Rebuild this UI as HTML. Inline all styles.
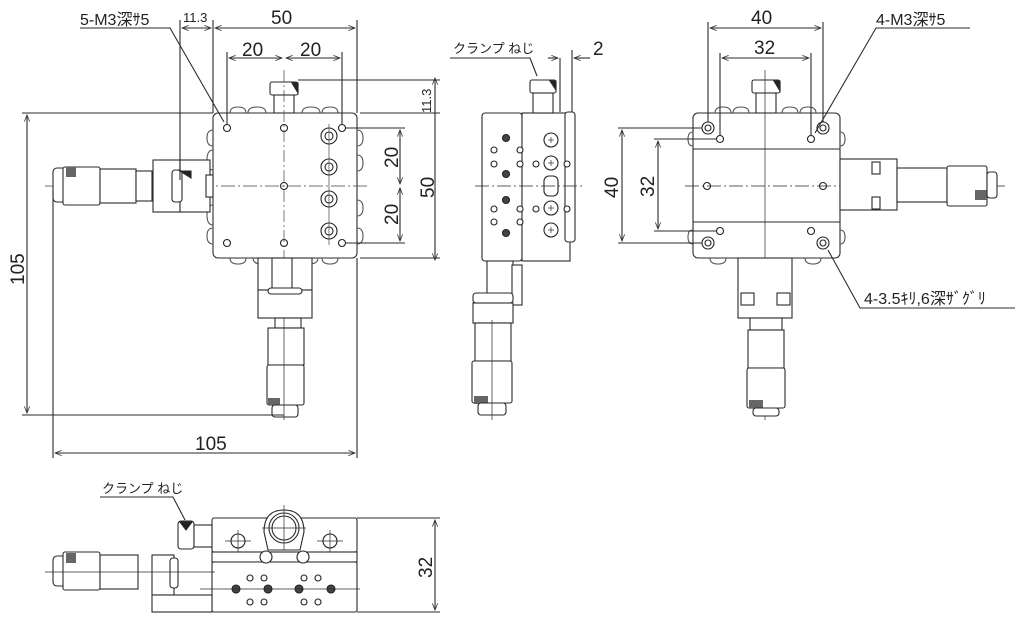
<!DOCTYPE html>
<html><head><meta charset="utf-8"><style>
html,body{margin:0;padding:0;background:#fff;}
svg{display:block;font-family:"Liberation Sans","Noto Sans CJK JP",sans-serif;}
</style></head><body>
<svg width="1024" height="625" viewBox="0 0 1024 625" xmlns="http://www.w3.org/2000/svg">
<defs>
<marker id="a" viewBox="0 0 10 10" refX="10" refY="5" markerWidth="9" markerHeight="6" orient="auto-start-reverse"><path d="M0,1 L10,5 L0,9" fill="none" stroke="#333" stroke-width="1.2"/></marker>
</defs>
<g stroke="#2a2a2a" stroke-width="1.1" fill="none">
<!-- ========== TOP VIEW ========== -->
<rect x="213" y="113" width="144" height="145" rx="5" fill="#fff"/>
<g stroke="#555">
<path d="M230,113 q0,-6 8,-6 q8,0 8,6 M248,113 q0,-6 9,-6 q9,0 9,6 M302,113 q0,-6 9,-6 q9,0 9,6 M322,113 q0,-6 8,-6 q8,0 8,6"/>
<path d="M230,258 q0,6 8,6 q8,0 8,-6 M253,258 q0,6 9,6 q9,0 9,-6 M300,258 q0,6 9,6 q9,0 9,-6 M322,258 q0,6 8,6 q8,0 8,-6"/>
<path d="M213,130 q-6,0 -6,8 q0,8 6,8 M213,150 q-6,0 -6,10 q0,10 6,10 M213,205 q-6,0 -6,10 q0,10 6,10 M213,228 q-6,0 -6,8 q0,8 6,8"/>
<path d="M357,130 q6,0 6,8 q0,8 -6,8 M357,155 q6,0 6,8 q0,8 -6,8 M357,200 q6,0 6,8 q0,8 -6,8 M357,228 q6,0 6,8 q0,8 -6,8"/>
</g>
<rect x="270" y="82" width="28" height="13" rx="2" fill="#fff"/>
<path d="M292,83 L298,83 L298,93 Z" fill="#222"/>
<rect x="274" y="95" width="20" height="18" fill="#fff"/>
<g fill="#fff" stroke="#222">
<circle cx="227" cy="128" r="3.5"/><circle cx="284" cy="128" r="3.5"/><circle cx="342" cy="128" r="3.5"/>
<circle cx="284" cy="186" r="3.5"/>
<circle cx="227" cy="243" r="3.5"/><circle cx="284" cy="243" r="3.5"/><circle cx="342" cy="243" r="3.5"/>
<circle cx="329" cy="136" r="8"/><circle cx="329" cy="136" r="4"/>
<circle cx="329" cy="167" r="8"/><circle cx="329" cy="167" r="4"/>
<circle cx="329" cy="199" r="8"/><circle cx="329" cy="199" r="4"/>
<circle cx="329" cy="231" r="8"/><circle cx="329" cy="231" r="4"/>
</g>
<g stroke="#444" stroke-width="0.7">
<line x1="284" y1="70" x2="284" y2="275" stroke-dasharray="12,3,2,3"/>
<line x1="45" y1="186" x2="370" y2="186" stroke-dasharray="14,3,2,3"/>
<line x1="329" y1="124" x2="329" y2="245"/>
</g>
<rect x="53" y="168" width="14" height="34" rx="4" fill="#fff"/>
<rect x="63" y="167" width="37" height="38" rx="2" fill="#fff"/>
<rect x="66" y="167" width="10" height="10" fill="#666" stroke="none"/>
<rect x="100" y="169" width="36" height="34" fill="#fff"/>
<rect x="136" y="171" width="16" height="30" fill="#fff"/>
<rect x="153" y="160" width="27" height="52" fill="#fff"/>
<rect x="180" y="160" width="30" height="52" fill="#fff"/>
<rect x="172" y="170" width="10" height="32" rx="3" fill="#fff"/>
<path d="M180,171 L191,171 L191,178 Z" fill="#222"/>
<rect x="206" y="175" width="7" height="22" fill="#fff"/>
<rect x="258" y="258" width="54" height="32" fill="#fff"/>
<rect x="272" y="258" width="20" height="32" fill="#fff"/>
<rect x="258" y="290" width="54" height="28" fill="#fff"/>
<rect x="268" y="288" width="34" height="6" rx="3" fill="#fff"/>
<rect x="275" y="318" width="26" height="10" fill="#fff"/>
<rect x="268" y="328" width="36" height="37" fill="#fff"/>
<rect x="267" y="365" width="37" height="40" rx="2" fill="#fff"/>
<rect x="268" y="398" width="12" height="7" fill="#666" stroke="none"/>
<rect x="272" y="405" width="26" height="12" rx="3" fill="#fff"/>
<line x1="284" y1="318" x2="284" y2="420" stroke-width="0.7"/>
<line x1="180" y1="20" x2="180" y2="180"/><line x1="213" y1="20" x2="213" y2="113"/><line x1="357" y1="20" x2="357" y2="113"/>
<line x1="182" y1="28" x2="211" y2="28" marker-start="url(#a)" marker-end="url(#a)"/>
<line x1="215" y1="28" x2="355" y2="28" marker-start="url(#a)" marker-end="url(#a)"/>
<line x1="227" y1="52" x2="227" y2="124"/><line x1="342" y1="52" x2="342" y2="124"/>
<line x1="229" y1="58" x2="282" y2="58" marker-start="url(#a)" marker-end="url(#a)"/>
<line x1="286" y1="58" x2="340" y2="58" marker-start="url(#a)" marker-end="url(#a)"/>
<line x1="298" y1="80" x2="440" y2="80"/><line x1="360" y1="113" x2="440" y2="113"/><line x1="360" y1="258" x2="440" y2="258"/>
<line x1="435" y1="78" x2="435" y2="260" marker-start="url(#a)" marker-end="url(#a)"/>
<line x1="346" y1="128" x2="405" y2="128"/><line x1="346" y1="243" x2="405" y2="243"/>
<line x1="400" y1="130" x2="400" y2="184" marker-start="url(#a)" marker-end="url(#a)"/>
<line x1="400" y1="188" x2="400" y2="241" marker-start="url(#a)" marker-end="url(#a)"/>
<line x1="22" y1="113" x2="213" y2="113"/><line x1="22" y1="415" x2="284" y2="415"/>
<line x1="27" y1="115" x2="27" y2="413" marker-start="url(#a)" marker-end="url(#a)"/>
<line x1="53" y1="190" x2="53" y2="458"/><line x1="357" y1="258" x2="357" y2="458"/>
<line x1="55" y1="453" x2="355" y2="453" marker-start="url(#a)" marker-end="url(#a)"/>
<polyline points="80,28 170,28 224,122" />
<!-- ========== SIDE VIEW ========== -->
<rect x="482" y="113" width="40" height="148" rx="3" fill="#fff"/>
<rect x="522" y="113" width="48" height="148" fill="#fff"/>
<rect x="565" y="112" width="10" height="130" rx="3" fill="#fff"/>
<rect x="530" y="80" width="26" height="13" rx="2" fill="#fff"/>
<path d="M550,81 L556,81 L556,90 Z" fill="#222"/>
<rect x="533" y="93" width="20" height="20" fill="#fff"/>
<g fill="#fff" stroke="#222">
<circle cx="506" cy="138" r="3.5" fill="#444"/><circle cx="506" cy="174" r="3.5" fill="#444"/><circle cx="506" cy="200" r="3.5" fill="#444"/><circle cx="506" cy="233" r="3.5" fill="#444"/>
<circle cx="494" cy="150" r="3"/><circle cx="520" cy="150" r="3"/><circle cx="494" cy="164" r="3"/><circle cx="520" cy="164" r="3"/>
<circle cx="494" cy="209" r="3"/><circle cx="520" cy="209" r="3"/><circle cx="494" cy="222" r="3"/><circle cx="520" cy="222" r="3"/>
<circle cx="536" cy="164" r="3"/><circle cx="567" cy="164" r="3"/><circle cx="536" cy="209" r="3"/><circle cx="567" cy="209" r="3"/>
<circle cx="551" cy="140" r="7"/><circle cx="551" cy="163" r="7"/><circle cx="551" cy="208" r="7"/><circle cx="551" cy="230" r="7"/>
<rect x="544" y="176" width="14" height="20" rx="5"/>
</g>
<g stroke-width="0.7">
<line x1="548" y1="140" x2="554" y2="140"/><line x1="551" y1="137" x2="551" y2="143"/>
<line x1="548" y1="163" x2="554" y2="163"/><line x1="551" y1="160" x2="551" y2="166"/>
<line x1="548" y1="208" x2="554" y2="208"/><line x1="551" y1="205" x2="551" y2="211"/>
<line x1="548" y1="230" x2="554" y2="230"/><line x1="551" y1="227" x2="551" y2="233"/>
</g>
<line x1="475" y1="186" x2="585" y2="186" stroke-width="0.7" stroke-dasharray="14,3,2,3"/>
<rect x="487" y="261" width="26" height="34" fill="#fff"/>
<rect x="512" y="265" width="10" height="40" fill="#fff"/>
<rect x="473" y="293" width="40" height="10" rx="3" fill="#fff"/>
<rect x="473" y="303" width="40" height="20" fill="#fff"/>
<rect x="475" y="323" width="36" height="38" fill="#fff"/>
<rect x="472" y="361" width="40" height="42" rx="2" fill="#fff"/>
<rect x="474" y="396" width="14" height="8" fill="#666" stroke="none"/>
<rect x="478" y="403" width="28" height="12" rx="3" fill="#fff"/>
<line x1="492" y1="320" x2="492" y2="420" stroke-width="0.7"/>
<polyline points="450,58 530,58 537,76"/>
<line x1="560" y1="58" x2="560" y2="112"/><line x1="572" y1="50" x2="572" y2="112"/>
<line x1="548" y1="58" x2="558" y2="58" marker-end="url(#a)"/><line x1="590" y1="58" x2="574" y2="58" marker-end="url(#a)"/>
<!-- ========== RIGHT VIEW ========== -->
<rect x="693" y="113" width="147" height="145" rx="5" fill="#fff"/>
<line x1="693" y1="149" x2="840" y2="149"/><line x1="693" y1="222" x2="840" y2="222"/>
<g stroke="#555">
<path d="M715,113 q0,-6 8,-6 q8,0 8,6 M733,113 q0,-6 8,-6 q8,0 8,6 M782,113 q0,-6 8,-6 q8,0 8,6 M800,113 q0,-6 8,-6 q8,0 8,6"/>
<path d="M710,258 q0,6 8,6 q8,0 8,-6 M805,258 q0,6 8,6 q8,0 8,-6"/>
<path d="M693,132 q-5,0 -5,7 q0,7 5,7 M693,230 q-5,0 -5,7 q0,7 5,7 M840,132 q5,0 5,7 q0,7 -5,7 M840,230 q5,0 5,7 q0,7 -5,7"/>
</g>
<rect x="752" y="80" width="28" height="13" rx="2" fill="#fff"/>
<path d="M774,81 L780,81 L780,91 Z" fill="#222"/>
<rect x="756" y="93" width="20" height="20" fill="#fff"/>
<g fill="#fff" stroke="#222">
<circle cx="708" cy="128" r="6"/><circle cx="708" cy="128" r="3"/>
<circle cx="823" cy="128" r="6"/><circle cx="823" cy="128" r="3"/>
<circle cx="708" cy="243" r="6"/><circle cx="708" cy="243" r="3"/>
<circle cx="823" cy="243" r="6"/><circle cx="823" cy="243" r="3"/>
<circle cx="720" cy="139" r="3.5"/><circle cx="811" cy="139" r="3.5"/><circle cx="720" cy="231" r="3.5"/><circle cx="811" cy="231" r="3.5"/>
<circle cx="707" cy="186" r="3.5"/><circle cx="823" cy="186" r="3.5"/>
</g>
<line x1="765" y1="70" x2="765" y2="420" stroke-width="0.7"/>
<line x1="685" y1="186" x2="1005" y2="186" stroke-width="0.7" stroke-dasharray="14,3,2,3"/>
<rect x="840" y="159" width="57" height="51" fill="#fff"/>
<rect x="872" y="162" width="8" height="12" fill="#fff"/><rect x="872" y="197" width="8" height="12" fill="#fff"/>
<rect x="897" y="168" width="50" height="34" fill="#fff"/>
<rect x="947" y="166" width="40" height="40" rx="2" fill="#fff"/>
<rect x="975" y="190" width="12" height="10" fill="#666" stroke="none"/>
<rect x="987" y="172" width="10" height="26" rx="3" fill="#fff"/>
<rect x="738" y="258" width="54" height="60" fill="#fff"/>
<rect x="741" y="293" width="13" height="12" fill="#fff"/><rect x="777" y="293" width="13" height="12" fill="#fff"/>
<rect x="750" y="318" width="32" height="12" fill="#fff"/>
<rect x="748" y="330" width="36" height="38" fill="#fff"/>
<rect x="747" y="368" width="38" height="40" rx="2" fill="#fff"/>
<rect x="749" y="400" width="14" height="8" fill="#666" stroke="none"/>
<rect x="753" y="408" width="26" height="8" rx="3" fill="#fff"/>
<line x1="708" y1="22" x2="708" y2="122"/><line x1="823" y1="22" x2="823" y2="122"/>
<line x1="710" y1="28" x2="821" y2="28" marker-start="url(#a)" marker-end="url(#a)"/>
<line x1="720" y1="53" x2="720" y2="135"/><line x1="811" y1="53" x2="811" y2="135"/>
<line x1="722" y1="58" x2="809" y2="58" marker-start="url(#a)" marker-end="url(#a)"/>
<line x1="618" y1="128" x2="702" y2="128"/><line x1="618" y1="243" x2="702" y2="243"/>
<line x1="622" y1="130" x2="622" y2="241" marker-start="url(#a)" marker-end="url(#a)"/>
<line x1="654" y1="139" x2="716" y2="139"/><line x1="654" y1="231" x2="716" y2="231"/>
<line x1="658" y1="141" x2="658" y2="229" marker-start="url(#a)" marker-end="url(#a)"/>
<polyline points="970,28 876,28 815,133"/>
<polyline points="1015,308 860,308 828,250"/>
<!-- ========== BOTTOM VIEW ========== -->
<rect x="212" y="518" width="145" height="34" rx="2" fill="#fff"/>
<rect x="212" y="552" width="145" height="10" fill="#fff"/>
<rect x="212" y="562" width="145" height="50" rx="2" fill="#fff"/>
<path d="M264,532 q0,-22 20,-22 q20,0 20,22 L300,550 L268,550 Z" fill="#fff"/>
<circle cx="284" cy="528" r="15" fill="#fff"/><circle cx="284" cy="528" r="12"/>
<line x1="284" y1="505" x2="284" y2="550" stroke-width="0.7"/><line x1="262" y1="528" x2="306" y2="528" stroke-width="0.7"/>
<g fill="#fff" stroke="#222">
<circle cx="238" cy="541" r="7"/><circle cx="330" cy="541" r="7"/>
<circle cx="266" cy="557" r="6"/><circle cx="303" cy="557" r="6"/>
<circle cx="236" cy="589" r="4" fill="#444"/><circle cx="268" cy="589" r="4" fill="#444"/><circle cx="299" cy="589" r="4" fill="#444"/><circle cx="331" cy="589" r="4" fill="#444"/>
<circle cx="250" cy="578" r="3"/><circle cx="264" cy="578" r="3"/><circle cx="304" cy="578" r="3"/><circle cx="318" cy="578" r="3"/>
<circle cx="250" cy="602" r="3"/><circle cx="264" cy="602" r="3"/><circle cx="304" cy="602" r="3"/><circle cx="318" cy="602" r="3"/>
</g>
<g stroke-width="0.7">
<line x1="225" y1="541" x2="251" y2="541"/><line x1="238" y1="530" x2="238" y2="552"/>
<line x1="317" y1="541" x2="343" y2="541"/><line x1="330" y1="530" x2="330" y2="552"/>
<line x1="200" y1="589" x2="360" y2="589"/>
</g>
<rect x="178" y="521" width="16" height="28" rx="3" fill="#fff"/>
<path d="M180,522 L192,522 L186,530 Z" fill="#222"/>
<rect x="194" y="525" width="18" height="22" fill="#fff"/>
<rect x="53" y="556" width="14" height="30" rx="4" fill="#fff"/>
<rect x="63" y="552" width="37" height="38" rx="2" fill="#fff"/>
<rect x="66" y="553" width="10" height="10" fill="#666" stroke="none"/>
<rect x="100" y="555" width="38" height="34" fill="#fff"/>
<rect x="152" y="555" width="22" height="40" fill="#fff"/>
<rect x="170" y="558" width="8" height="30" rx="3" fill="#fff"/>
<rect x="152" y="595" width="60" height="17" fill="#fff"/>
<line x1="45" y1="572" x2="215" y2="572" stroke-width="0.7"/>
<polyline points="100,497 173,497 185,520"/>
<line x1="357" y1="518" x2="440" y2="518"/><line x1="357" y1="612" x2="440" y2="612"/>
<line x1="435" y1="520" x2="435" y2="610" marker-start="url(#a)" marker-end="url(#a)"/>
</g>
<g fill="#222" font-size="19">
<text x="80" y="25" font-size="16">5-M3深ｻ5</text>
<text x="183" y="22" font-size="13">11.3</text>
<text x="271" y="24">50</text>
<text x="242" y="56">20</text><text x="300" y="56">20</text>
<text transform="translate(431,113) rotate(-90)" font-size="13">11.3</text>
<text transform="translate(434,198) rotate(-90)">50</text>
<text transform="translate(398,168) rotate(-90)">20</text>
<text transform="translate(398,225) rotate(-90)">20</text>
<text transform="translate(24,285) rotate(-90)">105</text>
<text x="195" y="450">105</text>
<text x="453" y="53" font-size="13">クランプ ねじ</text>
<text x="593" y="55">2</text>
<text x="751" y="24">40</text><text x="754" y="54">32</text>
<text x="876" y="25" font-size="16">4-M3深ｻ5</text>
<text transform="translate(618,198) rotate(-90)">40</text>
<text transform="translate(654,197) rotate(-90)">32</text>
<text x="864" y="304" font-size="16">4-3.5ｷﾘ,6深ｻﾞｸﾞﾘ</text>
<text x="102" y="493" font-size="13">クランプ ねじ</text>
<text transform="translate(432,578) rotate(-90)">32</text>
</g>
</svg>
</body></html>
